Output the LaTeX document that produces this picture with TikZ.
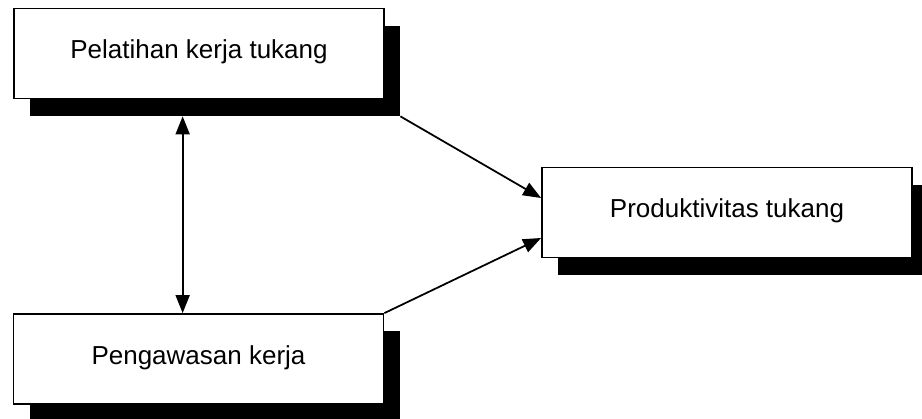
\documentclass[tikz,border=0pt]{standalone}
\usepackage{fontspec}
\setmainfont{Liberation Sans}
\usetikzlibrary{arrows.meta, positioning, calc}

\begin{document}
\begin{tikzpicture}[font=\fontsize{14.8}{18}\selectfont,
  varbox/.style={draw=black, line width=1pt, fill=white, minimum width=7.4cm, minimum height=1.8cm, align=center, text depth=0.45em},
  shadowbox/.style={fill=black, minimum width=7.4cm, minimum height=1.8cm},
  link/.style={line width=1pt, -{Triangle[length=0.36cm, width=0.28cm]}},
  both/.style={line width=1pt, {Triangle[length=0.36cm, width=0.28cm]}-{Triangle[length=0.36cm, width=0.28cm]}}]
  \useasboundingbox (0,0) rectangle (18.44,8.38);
  % shadows
  \node[shadowbox] (pelS) at (4.30,6.96) {};
  \node[shadowbox] (prodS) at (14.86,3.78) {};
  \node[shadowbox] (pengS) at (4.29,0.85) {};
  % boxes
  \node[varbox] (pel) at (3.98,7.31) {Pelatihan kerja tukang};
  \node[varbox] (prod) at (14.54,4.13) {Produktivitas tukang};
  \node[varbox] (peng) at (3.97,1.20) {Pengawasan kerja};
  % arrows
  \coordinate (a1) at ($(pelS.south west)+(3.06,0)$);
  \draw[both] (a1) -- (a1 |- peng.north);
  \draw[link] (pelS.south east) -- ($(prod.west)+(0,0.29)$);
  \draw[link] (peng.north east) -- ($(prod.west)+(0,-0.51)$);
\end{tikzpicture}
\end{document}
